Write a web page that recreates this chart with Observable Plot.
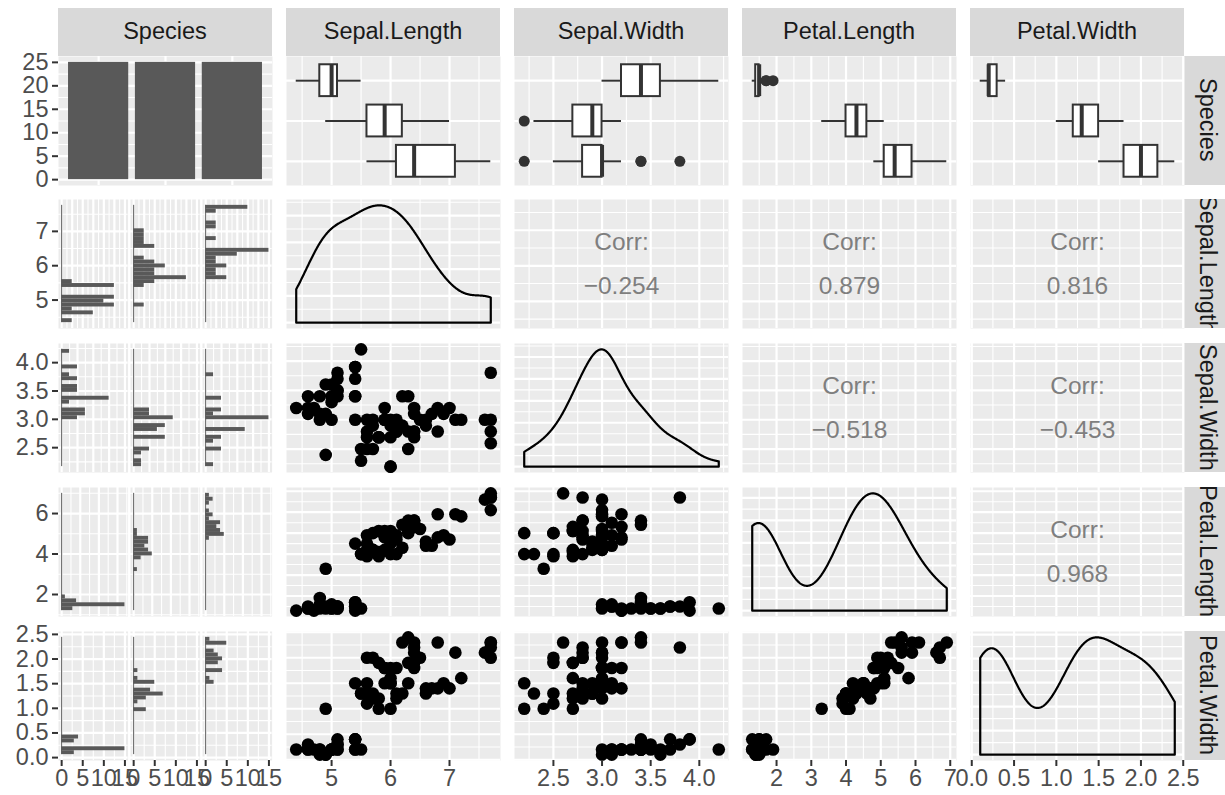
<!DOCTYPE html>
<html><head><meta charset="utf-8">
<script src="https://cdn.jsdelivr.net/npm/d3@7"></script>
<script src="https://cdn.jsdelivr.net/npm/@observablehq/plot@0.6"></script>
<style>
html,body{margin:0;padding:0;background:#fff;}
#root{position:relative;width:1225px;height:795px;overflow:hidden;background:#fff;font-family:"Liberation Sans",Arial,Helvetica,sans-serif;}
.strip{position:absolute;background:#D9D9D9;color:#1A1A1A;font-size:23.5px;display:flex;align-items:center;justify-content:center;overflow:hidden;white-space:nowrap;}
.strip.v{writing-mode:vertical-rl;}
#root svg{position:absolute;overflow:visible;max-width:none;}
</style></head>
<body><div id="root"></div>
<script>
// ---------------- data ----------------
const speciesLevels = ["setosa", "versicolor", "virginica"];
const varNames = ["Sepal.Length", "Sepal.Width", "Petal.Length", "Petal.Width"];

const setosaSepalLength = [5.5,5.4,5.4,5.4,5.4,5.4,5.1,5.1,5.1,5.1,5.1,5.0,5.0,5.0,5.0,4.9,4.9,4.8,4.8,4.8,4.7,4.6,4.6,4.6,4.4];
const setosaSepalWidth  = [4.2,3.9,3.9,3.7,3.4,3.4,3.7,3.5,3.5,3.8,3.4,3.6,3.3,3.0,3.4,3.6,3.1,3.4,3.1,3.0,3.2,3.1,3.2,3.4,3.2];
const setosaPetalLength = [1.4,1.7,1.3,1.5,1.7,1.5,1.5,1.4,1.4,1.5,1.5,1.4,1.4,1.6,1.5,1.4,1.5,1.9,1.6,1.4,1.3,1.5,1.4,1.4,1.3];
const setosaPetalWidth  = [0.2,0.4,0.4,0.2,0.2,0.4,0.4,0.2,0.3,0.3,0.2,0.2,0.2,0.2,0.2,0.1,0.1,0.2,0.2,0.1,0.2,0.2,0.2,0.3,0.2];

const versicolorSepalLength = [7.0,6.9,4.9,6.0,5.8,5.6,5.9,6.0,5.4,5.6,5.9,6.6,6.7,6.8,5.5,5.5,5.8,5.7,6.1,6.1,6.2,5.6,6.6,5.7,6.0];
const versicolorSepalWidth  = [3.2,3.1,2.4,2.2,2.7,2.5,3.2,2.7,3.0,3.0,3.0,3.0,3.1,2.8,2.3,2.5,2.7,3.0,2.8,2.8,2.9,2.7,2.9,2.9,2.9];
const versicolorPetalLength = [4.7,4.9,3.3,4.0,4.1,3.9,4.8,5.1,4.5,4.5,4.2,4.4,4.4,4.8,4.0,4.0,3.9,4.2,4.7,4.0,4.3,4.2,4.6,4.2,4.5];
const versicolorPetalWidth  = [1.4,1.5,1.0,1.0,1.0,1.1,1.8,1.6,1.5,1.5,1.5,1.4,1.4,1.4,1.3,1.3,1.2,1.2,1.2,1.3,1.3,1.3,1.3,1.3,1.5];

const virginicaSepalLength = [7.7,7.7,7.7,7.7,7.6,7.1,7.2,6.8,6.3,6.0,6.3,6.2,5.6,6.3,6.1,5.8,5.7,6.0,5.9,6.4,6.4,6.4,6.4,6.5,6.4];
const virginicaSepalWidth  = [3.8,2.6,2.8,3.0,3.0,3.0,3.0,3.2,2.5,2.2,3.4,3.4,2.8,2.8,3.0,2.7,2.5,3.0,3.0,2.7,2.8,2.8,3.2,3.0,3.1];
const virginicaPetalLength = [6.7,6.9,6.7,6.1,6.6,5.9,5.8,5.9,5.0,5.0,5.6,5.4,4.9,5.1,4.9,5.1,5.0,4.8,5.1,5.3,5.6,5.6,5.3,5.2,5.5];
const virginicaPetalWidth  = [2.2,2.3,2.0,2.3,2.1,2.1,1.6,2.3,1.9,1.5,2.4,2.3,2.0,1.5,1.8,1.9,2.0,1.8,1.8,1.9,2.1,2.2,2.3,2.0,1.8];

// tick labels
const countTicks = [0, 5, 10, 15, 20, 25];
const slTicks = [5, 6, 7];
const swTicks = [2.5, 3.0, 3.5, 4.0];
const plTicks = [2, 3, 4, 5, 6, 7];
const plHistTicks = [2, 4, 6];
const pwTicks = [0, 0.5, 1.0, 1.5, 2.0, 2.5];

// correlation labels (row variable, column variable, text)
const corrLabels = [
  ["Sepal.Length", "Sepal.Width", "\u22120.254"],
  ["Sepal.Length", "Petal.Length", "0.879"],
  ["Sepal.Length", "Petal.Width", "0.816"],
  ["Sepal.Width", "Petal.Length", "\u22120.518"],
  ["Sepal.Width", "Petal.Width", "\u22120.453"],
  ["Petal.Length", "Petal.Width", "0.968"]
];

// ---------------- build table ----------------
const bySpecies = {
  "Sepal.Length": [setosaSepalLength, versicolorSepalLength, virginicaSepalLength],
  "Sepal.Width": [setosaSepalWidth, versicolorSepalWidth, virginicaSepalWidth],
  "Petal.Length": [setosaPetalLength, versicolorPetalLength, virginicaPetalLength],
  "Petal.Width": [setosaPetalWidth, versicolorPetalWidth, virginicaPetalWidth]
};
const records = [];
speciesLevels.forEach((s, si) => {
  bySpecies["Sepal.Length"][si].forEach((_, i) => {
    const r = {Species: s};
    varNames.forEach(v => r[v] = bySpecies[v][si][i]);
    records.push(r);
  });
});
const axisTicks = {"Sepal.Length": slTicks, "Sepal.Width": swTicks, "Petal.Length": plTicks, "Petal.Width": pwTicks};
const histTicks = {"Sepal.Length": slTicks, "Sepal.Width": swTicks, "Petal.Length": plHistTicks, "Petal.Width": pwTicks};
const fmt = {"Sepal.Length": d3.format("d"), "Sepal.Width": d3.format(".1f"), "Petal.Length": d3.format("d"), "Petal.Width": d3.format(".1f")};

// ---------------- layout ----------------
const root = document.getElementById("root");
const FONT = '"Liberation Sans", Arial, Helvetica, sans-serif';
const W = 214, H = 129;
const colX = [58, 286, 514, 742, 970];
const rowY = [55.7, 199.4, 343.1, 486.8, 630.5];
const PANEL = "#EBEBEB", DARK = "#333333", BAR = "#595959";

function ext(vals) { const [a, b] = d3.extent(vals); const r = b - a; return [a - 0.05 * r, b + 0.05 * r]; }
function inDom(t, dom) { return t.filter(v => v >= dom[0] - 1e-9 && v <= dom[1] + 1e-9); }
function minorsOf(major, dom) {
  if (major.length < 2) return [];
  const d = major[1] - major[0];
  const b = [major[0] - d, ...major, major[major.length - 1] + d];
  const out = [];
  for (let i = 0; i < b.length - 1; i++) { const m = (b[i] + b[i + 1]) / 2; if (m > dom[0] && m < dom[1]) out.push(m); }
  return out;
}
function grid(xMaj, xMin, yMaj, yMin) {
  return [
    Plot.frame({fill: PANEL, stroke: "none"}),
    Plot.ruleX(xMin, {stroke: "#fff", strokeWidth: 1.1}),
    Plot.ruleY(yMin, {stroke: "#fff", strokeWidth: 1.1}),
    Plot.ruleX(xMaj, {stroke: "#fff", strokeWidth: 2.2}),
    Plot.ruleY(yMaj, {stroke: "#fff", strokeWidth: 2.2})
  ];
}
function contGrid(xdom, ydom, xt, yt) {
  return grid(inDom(xt, xdom), minorsOf(xt, xdom), inDom(yt, ydom), minorsOf(yt, ydom));
}

function cell(left, top, w, h, ml, mb, xdom, ydom, marks, xAxis, yAxis) {
  const opts = {
    width: w + ml, height: h + mb,
    marginLeft: ml, marginRight: 0, marginTop: 0, marginBottom: mb,
    x: {domain: xdom, axis: null}, y: {domain: ydom, axis: null},
    style: {background: "transparent", overflow: "visible", fontFamily: FONT, fontSize: "23.5px", color: "#4D4D4D"},
    marks: [...marks]
  };
  const hasAxisMark = typeof Plot.axisX === "function";
  if (xAxis) {
    if (hasAxisMark) opts.marks.push(Plot.axisX({ticks: xAxis.ticks, tickFormat: xAxis.fmt, tickSize: 6, tickPadding: 3, stroke: DARK, strokeWidth: 2, fill: "#4D4D4D", fontSize: 23.5, label: null}));
    else Object.assign(opts.x, {axis: "bottom", ticks: xAxis.ticks, tickFormat: xAxis.fmt, tickSize: 6, tickPadding: 3, label: null});
  }
  if (yAxis) {
    if (hasAxisMark) opts.marks.push(Plot.axisY({ticks: yAxis.ticks, tickFormat: yAxis.fmt, tickSize: 6, tickPadding: 4, stroke: DARK, strokeWidth: 2, fill: "#4D4D4D", fontSize: 23.5, label: null}));
    else Object.assign(opts.y, {axis: "left", ticks: yAxis.ticks, tickFormat: yAxis.fmt, tickSize: 6, tickPadding: 4, label: null});
  }
  const svg = Plot.plot(opts);
  svg.style.left = (left - ml) + "px";
  svg.style.top = top + "px";
  root.appendChild(svg);
}

// ---------- stats ----------
function histBins(v) {
  const all = records.map(d => d[v]);
  const [mn, mx] = d3.extent(all);
  const w = (mx - mn) / 29;
  const b0 = mn - w / 2;
  const bins = [];
  speciesLevels.forEach(s => {
    const counts = new Array(30).fill(0);
    records.filter(d => d.Species === s).forEach(d => {
      let k = Math.ceil((d[v] - b0) / w - 1e-7) - 1;
      k = Math.max(0, Math.min(29, k));
      counts[k]++;
    });
    counts.forEach((c, k) => { if (c > 0) bins.push({Species: s, lo: b0 + k * w, hi: b0 + (k + 1) * w, count: c}); });
  });
  const lo = b0, hi = b0 + 30 * w, r = hi - lo;
  return {bins, lo, hi, dom: [lo - 0.05 * r, hi + 0.05 * r], max: d3.max(bins, d => d.count)};
}
function kde(values, lo, hi) {
  const s = values.slice().sort(d3.ascending);
  const sd = d3.deviation(s);
  const iqr = d3.quantile(s, 0.75) - d3.quantile(s, 0.25);
  let base = Math.min(sd, iqr / 1.34); if (!(base > 0)) base = sd;
  const bw = 0.9 * base * Math.pow(s.length, -0.2);
  const n = 512, pts = [];
  for (let i = 0; i < n; i++) {
    const x = lo + (hi - lo) * i / (n - 1);
    let sum = 0;
    for (const v of s) { const z = (x - v) / bw; sum += Math.exp(-0.5 * z * z); }
    pts.push({x, y: sum / (s.length * bw * Math.sqrt(2 * Math.PI))});
  }
  return pts;
}
function boxStats(v) {
  const stats = [], outs = [];
  speciesLevels.forEach((s, i) => {
    const pos = 3 - i;
    const vals = records.filter(d => d.Species === s).map(d => d[v]).sort(d3.ascending);
    const q1 = d3.quantile(vals, 0.25), med = d3.quantile(vals, 0.5), q3 = d3.quantile(vals, 0.75);
    const iqr = q3 - q1;
    const inside = vals.filter(x => x >= q1 - 1.5 * iqr - 1e-9 && x <= q3 + 1.5 * iqr + 1e-9);
    stats.push({pos, q1, med, q3, lo: d3.min(inside), hi: d3.max(inside)});
    vals.filter(x => x < q1 - 1.5 * iqr - 1e-9 || x > q3 + 1.5 * iqr + 1e-9).forEach(x => outs.push({pos, v: x}));
  });
  return {stats, outs};
}

// ---------- strips ----------
const stripLabels = ["Species", ...varNames];
stripLabels.forEach((lab, c) => {
  const d = document.createElement("div");
  d.className = "strip";
  Object.assign(d.style, {left: colX[c] + "px", top: "8px", width: W + "px", height: "47.7px"});
  d.textContent = lab;
  root.appendChild(d);
});
stripLabels.forEach((lab, r) => {
  const d = document.createElement("div");
  d.className = "strip v";
  Object.assign(d.style, {left: (colX[4] + W) + "px", top: rowY[r] + "px", width: "47.7px", height: H + "px"});
  d.textContent = lab;
  root.appendChild(d);
});

// ---------- panels ----------
// (1,1) species counts
{
  const counts = speciesLevels.map((s, i) => ({pos: i + 1, count: records.filter(d => d.Species === s).length}));
  const m = d3.max(counts, d => d.count);
  const ydom = [-0.05 * m, 1.05 * m], xdom = [0.4, 3.6];
  cell(colX[0], rowY[0], W, H, 58, 0, xdom, ydom, [
    ...grid([1, 2, 3], [], inDom(countTicks, ydom), minorsOf(countTicks, ydom)),
    Plot.rect(counts, {x1: d => d.pos - 0.45, x2: d => d.pos + 0.45, y1: () => 0, y2: "count", fill: BAR})
  ], null, {ticks: inDom(countTicks, ydom), fmt: d3.format("d")});
}

// row 1: boxplots
varNames.forEach((v, j) => {
  const xdom = ext(records.map(d => d[v]));
  const {stats, outs} = boxStats(v);
  const hw = 0.395;
  cell(colX[j + 1], rowY[0], W, H, 0, 0, xdom, [0.4, 3.6], [
    ...grid(inDom(axisTicks[v], xdom), minorsOf(axisTicks[v], xdom), [1, 2, 3], []),
    Plot.ruleY(stats, {y: "pos", x1: "lo", x2: "q1", stroke: DARK, strokeWidth: 2}),
    Plot.ruleY(stats, {y: "pos", x1: "q3", x2: "hi", stroke: DARK, strokeWidth: 2}),
    Plot.rect(stats, {x1: "q1", x2: "q3", y1: d => d.pos - hw, y2: d => d.pos + hw, fill: "white", stroke: DARK, strokeWidth: 2}),
    Plot.ruleX(stats, {x: "med", y1: d => d.pos - hw, y2: d => d.pos + hw, stroke: DARK, strokeWidth: 4}),
    Plot.dot(outs, {x: "v", y: "pos", r: 5.5, fill: DARK, stroke: "none"})
  ]);
});

// column 1: histograms faceted by species
const GAP = 2.6, SW = (W - 2 * GAP) / 3;
varNames.forEach((v, i) => {
  const r = i + 1;
  const hb = histBins(v);
  const xdom = [-0.05 * hb.max, 1.05 * hb.max];
  const xt = d3.ticks(xdom[0], xdom[1], 5);
  const yt = histTicks[v];
  speciesLevels.forEach((s, k) => {
    const left = colX[0] + k * (SW + GAP);
    cell(left, rowY[r], SW, H, k === 0 ? 58 : 0, r === 4 ? 40 : 0, xdom, hb.dom, [
      ...grid(inDom(xt, xdom), minorsOf(xt, xdom), inDom(yt, hb.dom), minorsOf(yt, hb.dom)),
      Plot.ruleX([0], {y1: hb.lo, y2: hb.hi, stroke: BAR, strokeWidth: 1}),
      Plot.rect(hb.bins.filter(d => d.Species === s), {x1: () => 0, x2: "count", y1: "lo", y2: "hi", fill: BAR})
    ],
    r === 4 ? {ticks: inDom(xt, xdom), fmt: d3.format("d")} : null,
    k === 0 ? {ticks: inDom(yt, hb.dom), fmt: fmt[v]} : null);
  });
});

// lower/diagonal/upper panels
for (let r = 1; r <= 4; r++) {
  for (let c = 1; c <= 4; c++) {
    const vy = varNames[r - 1], vx = varNames[c - 1];
    const xdom = ext(records.map(d => d[vx]));
    const xAxis = r === 4 ? {ticks: inDom(axisTicks[vx], xdom), fmt: fmt[vx]} : null;
    if (r === c) {
      const vals = records.map(d => d[vx]);
      const [mn, mx] = d3.extent(vals);
      const curve = kde(vals, mn, mx);
      const m = d3.max(curve, d => d.y);
      const ydom = [-0.05 * m, 1.05 * m];
      const yt = d3.ticks(0, m * 1.05, 5);
      const poly = [{x: mn, y: 0}, ...curve, {x: mx, y: 0}, {x: mn, y: 0}];
      cell(colX[c], rowY[r], W, H, 0, r === 4 ? 40 : 0, xdom, ydom, [
        ...contGrid(xdom, ydom, axisTicks[vx], yt),
        Plot.line(poly, {x: "x", y: "y", stroke: "black", strokeWidth: 2.2})
      ], xAxis, null);
    } else if (r > c) {
      const ydom = ext(records.map(d => d[vy]));
      cell(colX[c], rowY[r], W, H, 0, r === 4 ? 40 : 0, xdom, ydom, [
        ...contGrid(xdom, ydom, axisTicks[vx], axisTicks[vy]),
        Plot.dot(records, {x: vx, y: vy, r: 6.3, fill: "black", stroke: "none"})
      ], xAxis, null);
    } else {
      const ydom = ext(records.map(d => d[vy]));
      const lab = corrLabels.find(d => d[0] === vy && d[1] === vx);
      cell(colX[c], rowY[r], W, H, 0, 0, xdom, ydom, [
        ...contGrid(xdom, ydom, axisTicks[vx], axisTicks[vy]),
        Plot.text(["Corr:"], {text: d => d, frameAnchor: "middle", dy: -21.5, fill: "#7F7F7F", fontSize: 24.5, fontFamily: FONT}),
        Plot.text([lab[2]], {text: d => d, frameAnchor: "middle", dy: 22, fill: "#7F7F7F", fontSize: 24.5, fontFamily: FONT})
      ], null, null);
    }
  }
}
</script>
</body></html>
